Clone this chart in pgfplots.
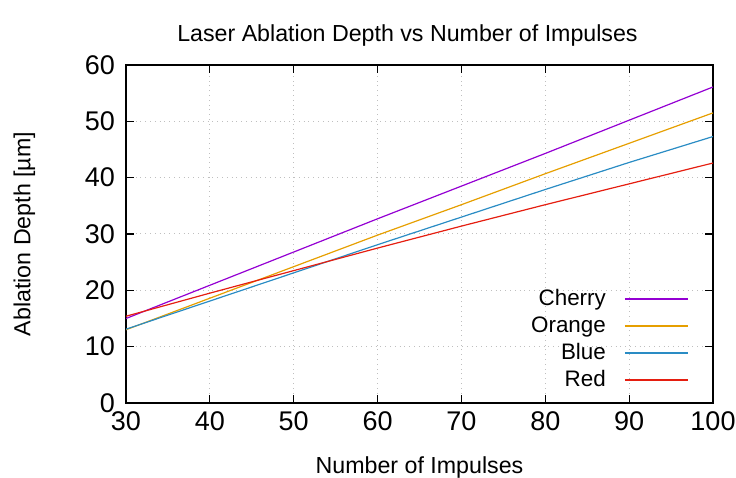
\documentclass[border=0pt]{standalone}
\usepackage{fontspec}
\setmainfont{Liberation Sans}
\usepackage{pgfplots}
\pgfplotsset{compat=1.18}
\usetikzlibrary{calc}
\definecolor{ccherry}{HTML}{9400D3}
\definecolor{corange}{HTML}{E69F00}
\definecolor{cblue}{HTML}{2A8CC4}
\definecolor{cred}{HTML}{E51E10}
\begin{document}
\begin{tikzpicture}
\begin{axis}[
  scale only axis,
  width=293.5pt, height=169pt,
  xmin=30, xmax=100, ymin=0, ymax=60,
  xtick={30,40,...,100}, ytick={0,10,...,60},
  tick align=inside, tickpos=both,
  major tick length=4pt,
  tick style={black, line width=0.6pt},
  axis line style={black, line width=0.6pt},
  grid=major,
  grid style={gray!50, dotted, line width=0.5pt},
  /pgf/number format/assume math mode=true,
  tick label style={font=\fontsize{13.5}{15}\selectfont},
  yticklabel style={xshift=-2pt},
  xticklabel style={yshift=-1pt},
  label style={font=\fontsize{11.6}{13}\selectfont},
  xlabel={Number of Impulses},
  ylabel={Ablation Depth [µm]},
  xlabel style={yshift=-6pt},
  ylabel style={yshift=18pt},
  title={Laser Ablation Depth vs Number of Impulses},
  title style={font=\fontsize{11.6}{13}\selectfont, xshift=-6pt, yshift=0pt},
  legend plot pos=right,
  legend cell align=right,
  legend style={draw=none, fill=none, font=\fontsize{11.2}{13}\selectfont,
    at={(rel axis cs:0.959,0.026)}, anchor=south east,
    row sep=0pt, inner sep=0pt},
  legend image code/.code={\path[draw=none] (0pt,0pt) -- (39pt,0pt); \draw[#1, line width=0.7pt] (7.5pt,0pt) -- (39pt,0pt);},
  every axis plot/.append style={line width=0.6pt},
]
\addplot[ccherry] coordinates {(30,15.0) (40,20.9) (50,26.8) (60,32.7) (70,38.5) (80,44.3) (90,50.2) (100,56.1)};
\addlegendentry{Cherry}
\addplot[corange] coordinates {(30,13.0) (40,18.6) (50,24.2) (60,29.8) (70,35.2) (80,40.7) (90,46.1) (100,51.5)};
\addlegendentry{Orange}
\addplot[cblue] coordinates {(30,13.1) (40,18.1) (50,23.1) (60,28.1) (70,33.0) (80,37.9) (90,42.7) (100,47.3)};
\addlegendentry{Blue}
\addplot[cred] coordinates {(30,15.4) (40,19.5) (50,23.5) (60,27.5) (70,31.4) (80,35.2) (90,38.9) (100,42.6)};
\addlegendentry{Red}
\end{axis}
\pgfresetboundingbox
\useasboundingbox ($(current axis.south west)+(-63pt,-37.5pt)$) rectangle ($(current axis.north east)+(11.5pt,32.5pt)$);
\end{tikzpicture}
\end{document}
